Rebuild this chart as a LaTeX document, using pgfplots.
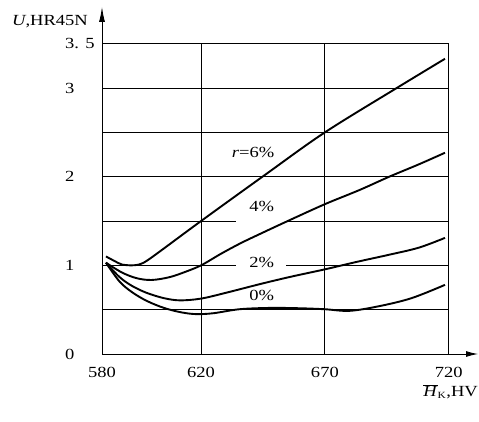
\documentclass[border=0pt]{standalone}
\usepackage{fontspec}
\setmainfont[FakeStretch=1.2]{Liberation Serif}
\usepackage{pgfplots}
\pgfplotsset{compat=1.18}
\usetikzlibrary{arrows.meta}
\begin{document}
\fontsize{15.5}{18}\selectfont
\begin{tikzpicture}[x=1bp,y=1bp]
\path[use as bounding box] (0,0) rectangle (479,421);
\begin{axis}[
 at={(102bp,67bp)}, anchor=south west,
 scale only axis, width=346.7bp, height=310.3bp,
 xmin=580,xmax=720,ymin=0,ymax=3.5,
 axis lines=left,
 x axis line style={-{Latex[length=12bp,width=6bp]}, shorten >=-29.3bp, line width=0.9bp},
 y axis line style={-{Latex[length=15bp,width=6bp]}, shorten >=-36.7bp, line width=0.9bp},
 xtick={580,620,670,720}, xticklabels={580,620,670,720},
 ytick={0,1,2,3,3.5}, yticklabels={0,1,2,3,{3. 5}},
 minor ytick={0.5,1.5,2.5},
 grid=both,
 major grid style={black,line width=0.8bp},
 minor grid style={black,line width=0.8bp},
 major tick length=0pt, minor tick length=0pt,
 yticklabel style={anchor=west, inner sep=0pt, xshift=-37bp},
 xticklabel style={anchor=north, inner sep=0pt, yshift=-13bp},
 clip=false,
]
\fill[white] (axis cs:634.1,0.98) rectangle (axis cs:654.3,1.02);
\fill[white] (axis cs:634.1,1.48) rectangle (axis cs:654.3,1.52);
% r = 6%
\addplot[black, line width=1.9bp, smooth, tension=0.55] coordinates {
(581.6,1.10) (585,1.05) (588,1.01) (592,1.0) (595,1.01) (598,1.05) (604,1.17)
(620,1.50) (645.8,2.02) (670,2.50) (699,3.00) (718.5,3.33)};
% 4%
\addplot[black, line width=1.9bp, smooth, tension=0.55] coordinates {
(581.6,1.03) (588,0.92) (594,0.855) (600,0.835) (607,0.865) (613,0.92) (620,1.0)
(628,1.13) (636,1.25) (645,1.37) (655,1.50) (670,1.69) (684,1.85) (696,2.0)
(708,2.14) (718.5,2.27)};
% 2%
\addplot[black, line width=1.9bp, smooth, tension=0.55] coordinates {
(581.6,1.03) (587,0.87) (592,0.77) (598,0.69) (605,0.63) (611.5,0.605) (620,0.625)
(630,0.69) (644,0.79) (656,0.87) (670,0.955) (683,1.04) (696,1.12) (708,1.2) (718.5,1.31)};
% 0%
\addplot[black, line width=1.9bp, smooth, tension=0.55] coordinates {
(581.6,1.03) (587,0.82) (592,0.70) (598,0.60) (605,0.52) (612,0.47) (618,0.45)
(625,0.46) (635.5,0.505) (648,0.52) (660,0.516) (670,0.505) (680,0.487) (692,0.54)
(705,0.63) (718.5,0.78)};
\node at (axis cs:641,2.27) {\textit{r}=6\%};
\node at (axis cs:644.5,1.66) {4\%};
\node at (axis cs:644.5,1.035) {2\%};
\node at (axis cs:644.5,0.655) {0\%};
\end{axis}
\node[anchor=west, inner sep=0pt] at (12,399.3) {\textit{U},HR45N};
\node[anchor=base east, inner sep=0pt] at (478,24.3) {$\overline{\mbox{\textit{H}}}_{\mbox{\fontsize{9.5}{10}\selectfont K}}$,HV};
\end{tikzpicture}
\end{document}
